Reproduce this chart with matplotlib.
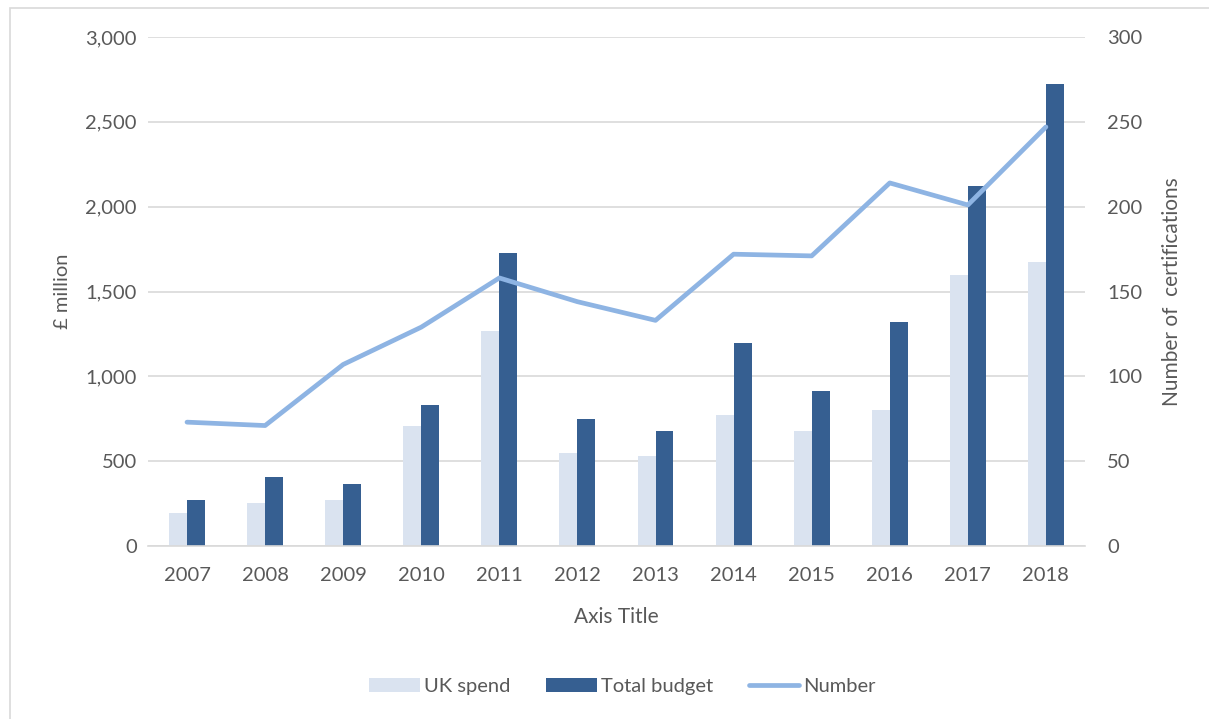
import numpy as np
import matplotlib.pyplot as plt
from matplotlib.patches import Rectangle

years = ['2007', '2008', '2009', '2010', '2011', '2012',
         '2013', '2014', '2015', '2016', '2017', '2018']
uk_spend = [195, 253, 273, 707, 1267, 548, 530, 772, 678, 801, 1597, 1675]
total_budget = [270, 405, 365, 831, 1727, 748, 678, 1196, 913, 1320, 2121, 2722]
number = [73, 71, 107, 129, 158, 144, 133, 172, 171, 214, 201, 247]

plt.rcParams['font.family'] = ['Lato', 'DejaVu Sans']
txt = '#595959'

fig = plt.figure(figsize=(12.09, 7.19), dpi=100)
fig.patches.append(Rectangle((10 / 1209, -0.01), 1.02, 1 - 8 / 719 + 0.01,
                             transform=fig.transFigure, fill=False,
                             edgecolor='#D9D9D9', linewidth=1.2))

ax = fig.add_axes([0.1224, 0.2406, 0.775, 0.7079])
x = np.arange(len(years))
w = 0.23
ax.bar(x - w / 2, uk_spend, w, color='#DAE3F0', label='UK spend', zorder=2)
ax.bar(x + w / 2, total_budget, w, color='#365F91', label='Total budget', zorder=2)

ax.set_ylim(0, 3000)
ax.set_xlim(-0.5, len(years) - 0.5)
ax.set_yticks(range(0, 3001, 500))
ax.set_yticklabels([f'{v:,}' for v in range(0, 3001, 500)])
ax.set_xticks(x)
ax.set_xticklabels(years)
ax.grid(axis='y', color='#D9D9D9', linewidth=1.2, zorder=0)
for s in ['top', 'right', 'left']:
    ax.spines[s].set_visible(False)
ax.spines['bottom'].set_color('#D9D9D9')
ax.spines['bottom'].set_linewidth(1.2)
ax.tick_params(axis='y', length=0, labelsize=14.5, colors=txt, pad=8)
ax.tick_params(axis='x', length=0, labelsize=14.5, colors=txt, pad=15)
ax.set_ylabel('£ million', fontsize=14.5, color=txt, labelpad=10)
ax.set_xlabel('Axis Title', fontsize=15, color=txt, labelpad=17)

ax2 = ax.twinx()
ax2.plot(x, number, color='#8EB4E3', linewidth=3.4, solid_capstyle='round',
         label='Number', zorder=3)
ax2.set_ylim(0, 300)
ax2.set_yticks(range(0, 301, 50))
for s in ax2.spines.values():
    s.set_visible(False)
ax2.tick_params(length=0, labelsize=14.5, colors=txt, pad=16)
ax2.set_ylabel('Number of  certifications', fontsize=15, color=txt, labelpad=14)

h1, l1 = ax.get_legend_handles_labels()
h2, l2 = ax2.get_legend_handles_labels()
fig.legend(h1 + h2, l1 + l2, loc='center', bbox_to_anchor=(0.515, 0.045),
           ncol=3, frameon=False, fontsize=14.5, labelcolor=txt,
           handlelength=2.5, handletextpad=0.2, columnspacing=1.8)

fig.savefig('out.png', dpi=100)
